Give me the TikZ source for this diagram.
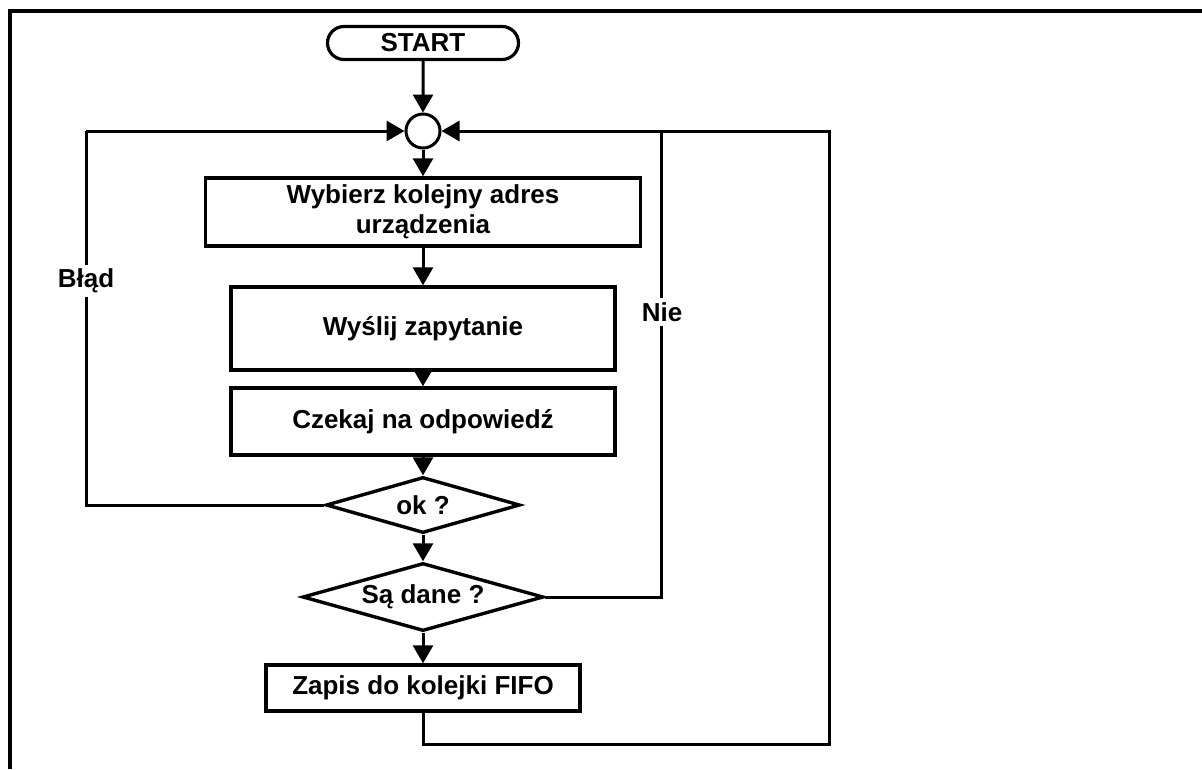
\documentclass[tikz,border=0pt]{standalone}
\usepackage{fontspec}
\setmainfont{Liberation Sans}
\usetikzlibrary{arrows.meta,shapes.misc,shapes.geometric}
\begin{document}
\begin{tikzpicture}[x=1pt,y=-1pt,
  every node/.style={font=\fontsize{26}{30}\selectfont\bfseries},
  proc/.style={draw,line width=3.4pt,minimum width=#1,inner sep=0pt,align=center},
  decision/.style={draw,line width=3.4pt,diamond,inner sep=0pt},
  flow/.style={line width=3pt,-{Triangle[length=18pt,width=20pt]}},
  loop/.style={line width=3pt},
  lbl/.style={fill=white,inner sep=4pt}]
\useasboundingbox (0,0) rectangle (1202,769);
% outer frame (top and left edges)
\draw[line width=4.5pt] (10,769) -- (10,11) -- (1202,11);

\node[draw,line width=3.2pt,rounded rectangle,minimum width=191pt,minimum height=33pt,inner sep=0pt] (start) at (423,43) {START};
\node[draw,line width=3pt,circle,minimum size=34pt,inner sep=0pt] (join) at (423,131) {};
\node[proc=435pt,minimum height=68pt] (pick) at (423,212) {Wybierz kolejny adres\\urządzenia};
\node[proc=384pt,minimum height=83pt] (send) at (423,328.5) {Wyślij zapytanie};
\node[proc=384pt,minimum height=67pt] (wait) at (423,421.5) {Czekaj na odpowiedź};
\node[decision,minimum width=194pt,minimum height=56pt] (ok) at (423,505) {};
\node at (423,505) {ok ?};
\node[decision,minimum width=241pt,minimum height=68pt] (data) at (423,597) {};
\node at (423,597) {Są dane ?};
\node[proc=314pt,minimum height=46pt] (fifo) at (423,688) {Zapis do kolejki FIFO};

% corner points of the return lines
\coordinate (errL) at (86,505);
\coordinate (errT) at (86,131);
\coordinate (noB) at (661,597);
\coordinate (noT) at (661,131);
\coordinate (retB) at (423,744);
\coordinate (retR) at (829,744);
\coordinate (retT) at (829,131);

% main flow
\draw[flow] (start) -- (join);
\draw[flow] (join) -- (pick);
\draw[flow] (pick) -- (send);
\draw[flow] (send) -- (wait);
\draw[flow] (wait) -- (ok.north);
\draw[flow] (ok.south) -- (data.north);
\draw[flow] (data.south) -- (fifo);

% return paths
\draw[loop] (ok.west) -- (errL) -- (errT);
\draw[flow] (errT) -- (join.west);
\draw[loop] (data.east) -- (noB) -- (noT);
\draw[loop] (fifo.south) -- (retB) -- (retR) -- (retT) -- (noT);
\draw[flow] (noT) -- (join.east);

\node[lbl] at (86,281) {Błąd};
\node[lbl] at (662,312) {Nie};
\end{tikzpicture}
\end{document}
